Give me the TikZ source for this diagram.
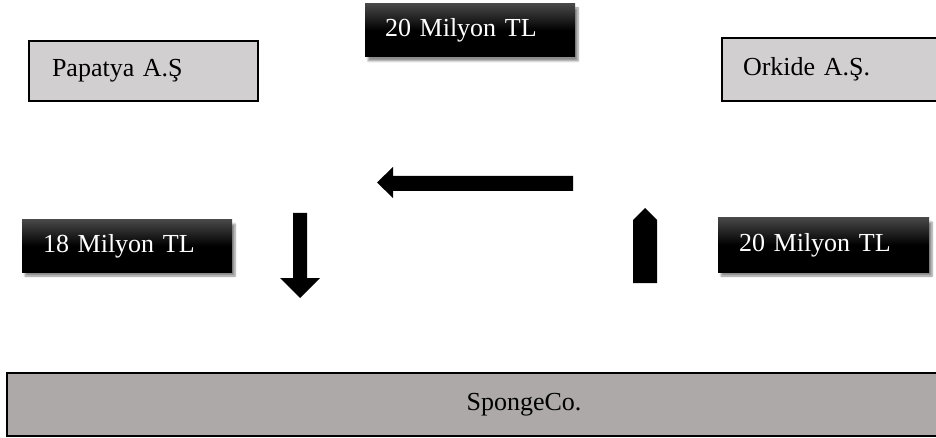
\documentclass[tikz,border=0pt]{standalone}
\usepackage{fontspec}
\setmainfont{Liberation Serif}
\usetikzlibrary{shadows.blur}
\definecolor{lightbox}{HTML}{D1CFD0}
\definecolor{darkbox}{HTML}{ADA9A8}
\tikzset{
  firmbox/.style={draw=black, line width=1.6pt, fill=lightbox, rectangle, align=left,
    font=\fontsize{26}{30}\selectfont, text=black, inner ysep=0pt},
  moneybox/.style={rectangle, align=left, top color=black!72, bottom color=black, middle color=black,
    font=\fontsize{26}{30}\selectfont, text=white, inner ysep=0pt,
    blur shadow={shadow xshift=3pt, shadow yshift=-4pt, shadow blur steps=6, shadow opacity=45}},
  arrowshape/.style={fill=black, draw=none}
}
\begin{document}
\begin{tikzpicture}[x=1pt,y=-1pt]
\useasboundingbox (0,0) rectangle (936,438);
% firm boxes
\node[firmbox, minimum width=229pt, minimum height=60pt, text width=183pt, inner xsep=23pt] (papatya) at (143.5,71) {Papatya A.Ş};
\node[firmbox, minimum width=215pt, minimum height=63pt, text width=173pt, inner xsep=21pt] (orkide) at (829.5,69.5) {Orkide A.Ş.};
% money boxes
\node[moneybox, minimum width=210pt, minimum height=53pt, text width=170pt, inner xsep=20pt] (topmoney) at (470,30.5) {20 Milyon TL};
\node[moneybox, minimum width=210pt, minimum height=52pt, text width=168pt, inner xsep=21pt] (leftmoney) at (127,246) {18 Milyon TL};
\node[moneybox, minimum width=211pt, minimum height=54pt, text width=169pt, inner xsep=21pt] (rightmoney) at (823.5,245) {20 Milyon TL};
% SpongeCo bar
\node[draw=black, line width=2pt, fill=darkbox, rectangle, minimum width=935pt, minimum height=63pt, inner sep=0pt] (sponge) at (474.5,404.5) {};
\node[font=\fontsize{26}{30}\selectfont, inner sep=0pt] (spongetext) at (524,404.5) {SpongeCo.};
% arrows
\path[arrowshape] (377,182.5) -- (393,167) -- (393,176) -- (573,176) -- (573,191) -- (393,191) -- (393,198) -- cycle;
\path[arrowshape] (293,213) -- (307,213) -- (307,278) -- (320,278) -- (300,298) -- (280,278) -- (293,278) -- cycle;
\path[arrowshape] (633,283) -- (633,220) -- (645,208) -- (657,220) -- (657,283) -- cycle;
\end{tikzpicture}
\end{document}
